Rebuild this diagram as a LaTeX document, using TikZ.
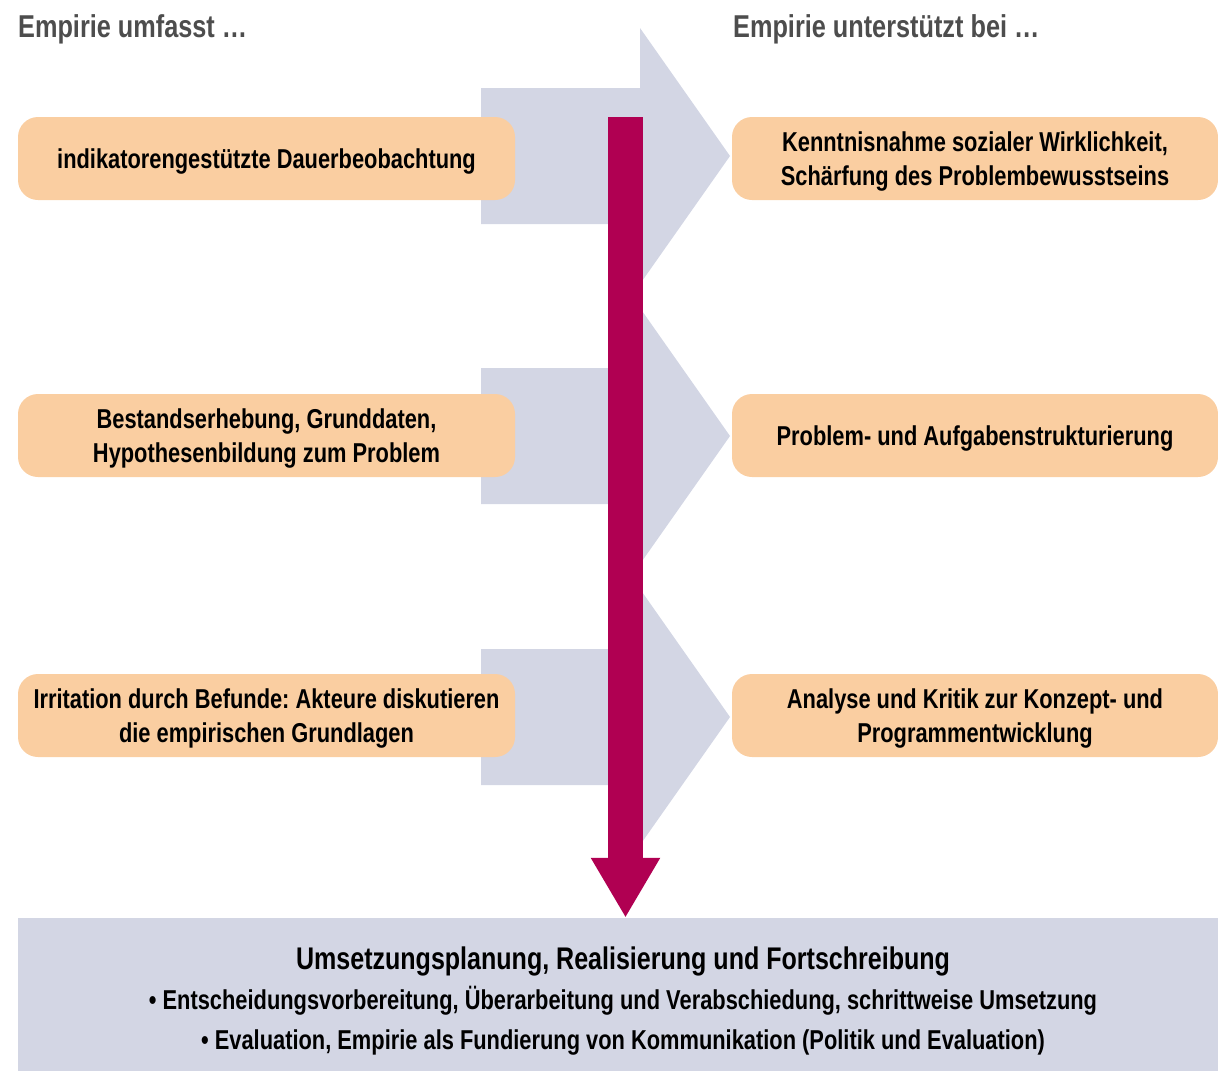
\documentclass[tikz,border=0pt]{standalone}
\usepackage{fontspec}
\setmainfont[FakeStretch=0.8]{Liberation Sans}
\usetikzlibrary{arrows.meta}
\definecolor{chevfill}{HTML}{D3D6E4}
\definecolor{boxfill}{HTML}{FACEA1}
\definecolor{flowred}{HTML}{B00052}
\definecolor{headgray}{HTML}{4D4D4D}
\frenchspacing
\begin{document}
\begin{tikzpicture}[x=1pt,y=-1pt,
  chev/.style={fill=chevfill, draw=none},
  stage/.style={rectangle, rounded corners=20pt, fill=boxfill, minimum height=83pt,
    inner sep=0pt, text depth=0pt, align=center, font=\fontsize{27.3}{34}\selectfont\bfseries},
  leftstage/.style={stage, minimum width=497pt},
  rightstage/.style={stage, minimum width=486pt},
  heading/.style={anchor=base west, inner sep=0pt, text=headgray,
    font=\fontsize{31.6}{36}\selectfont\bfseries},
  plantext/.style={anchor=base, inner sep=0pt, font=\fontsize{27.3}{30}\selectfont\bfseries}]
\useasboundingbox (0,0) rectangle (1218,1071);

% column headings
\node[heading] (hleft) at (18,37) {Empirie umfasst …};
\node[heading] (hright) at (733,37) {Empirie unterstützt bei …};

% broad chevrons behind each row
\foreach \c in {156,436,717} {
  \fill[chev] (481,\c-68) -- (640,\c-68) -- (640,\c-128) -- (730,\c)
    -- (640,\c+128) -- (640,\c+68) -- (481,\c+68) -- cycle;
}

% left column
\node[leftstage] (l1) at (266.5,158.5) {indikatorengestützte Dauerbeobachtung};
\node[leftstage] (l2) at (266.5,435.5) {Bestandserhebung, Grunddaten,\\Hypothesenbildung zum Problem};
\node[leftstage] (l3) at (266.5,715.5) {Irritation durch Befunde: Akteure diskutieren\\die empirischen Grundlagen};

% right column
\node[rightstage] (r1) at (975,158.5) {Kenntnisnahme sozialer Wirklichkeit,\\Schärfung des Problembewusstseins};
\node[rightstage] (r2) at (975,435.5) {Problem- und Aufgabenstrukturierung};
\node[rightstage] (r3) at (975,715.5) {Analyse und Kritik zur Konzept- und\\Programmentwicklung};

% bottom panel
\node[fill=chevfill, minimum width=1200pt, minimum height=153pt, inner sep=0pt] (plan) at (618,994.5) {};
\node[plantext, font=\fontsize{31.3}{34}\selectfont\bfseries] (ptitle) at (623,969)
  {Umsetzungsplanung, Realisierung und Fortschreibung};
\node[plantext] (pb1) at (623,1009)
  {\textbullet\ Entscheidungsvorbereitung, Überarbeitung und Verabschiedung, schrittweise Umsetzung};
\node[plantext] (pb2) at (623,1049)
  {\textbullet\ Evaluation, Empirie als Fundierung von Kommunikation (Politik und Evaluation)};

% main downward flow
\coordinate (flowtop) at (625.5,117);
\draw[flowred, line width=35pt, -{Triangle[length=60pt,width=65pt]}]
  (flowtop) -- (plan.north -| flowtop);
\end{tikzpicture}
\end{document}
